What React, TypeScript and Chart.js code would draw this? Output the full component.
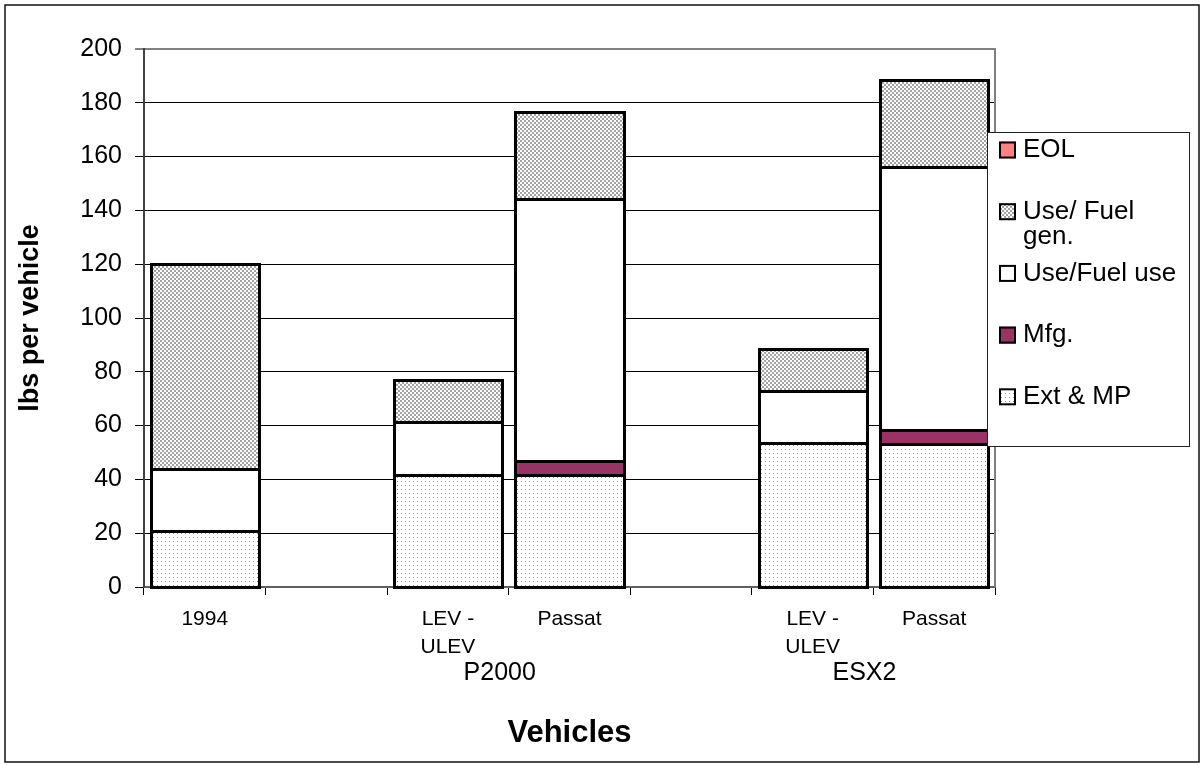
import React, { useEffect, useRef } from 'react';
import { Chart, registerables } from 'chart.js';

Chart.register(...registerables);

// Vehicle categories (blank slots separate the groups)
const categories: (string | string[])[] = ['1994', '', ['LEV -', 'ULEV'], 'Passat', '', ['LEV -', 'ULEV'], 'Passat'];
const groups = [
  { label: 'P2000', from: 2, to: 3 },
  { label: 'ESX2', from: 5, to: 6 },
];

// lbs per vehicle, by life-cycle stage
const extMP = [21, null, 41.5, 41.5, null, 53.5, 53.3];
const mfg = [0, null, 0, 5.2, null, 0, 5.2];
const useFuelUse = [23, null, 20, 97.5, null, 19.5, 97.7];
const useFuelGen = [76.2, null, 15.6, 32.5, null, 15.5, 32.2];
const eol = [0, null, 0, 0, null, 0, 0];

const yMin = 0;
const yMax = 200;
const yStep = 20;

const FONT = "'Liberation Sans', Arial, Helvetica, sans-serif";

function dotPattern(ctx: CanvasRenderingContext2D): CanvasPattern {
  const c = document.createElement('canvas');
  c.width = 4;
  c.height = 4;
  const g = c.getContext('2d')!;
  g.fillStyle = '#ffffff';
  g.fillRect(0, 0, 4, 4);
  g.fillStyle = '#999999';
  g.fillRect(1, 1, 1, 1);
  return ctx.createPattern(c, 'repeat')!;
}

function checkerPattern(ctx: CanvasRenderingContext2D): CanvasPattern {
  const c = document.createElement('canvas');
  c.width = 4;
  c.height = 4;
  const g = c.getContext('2d')!;
  g.fillStyle = '#ffffff';
  g.fillRect(0, 0, 4, 4);
  g.fillStyle = '#a2a2a2';
  g.fillRect(0, 0, 2, 2);
  g.fillRect(2, 2, 2, 2);
  return ctx.createPattern(c, 'repeat')!;
}

export default function App() {
  const ref = useRef<HTMLCanvasElement>(null);

  useEffect(() => {
    document.body.style.margin = '0';
    const canvas = ref.current!;
    const ctx0 = canvas.getContext('2d')!;
    const dots = dotPattern(ctx0);
    const checker = checkerPattern(ctx0);

    const series = [
      { label: 'Ext & MP', lines: ['Ext & MP'], data: extMP, fill: dots as any },
      { label: 'Mfg.', lines: ['Mfg.'], data: mfg, fill: '#993366' as any },
      { label: 'Use/Fuel use', lines: ['Use/Fuel use'], data: useFuelUse, fill: '#ffffff' as any },
      { label: 'Use/ Fuel gen.', lines: ['Use/ Fuel', 'gen.'], data: useFuelGen, fill: checker as any },
      { label: 'EOL', lines: ['EOL'], data: eol, fill: '#ff8080' as any },
    ];

    // crisp black outlines centred on every segment edge
    const outlines = {
      id: 'outlines',
      afterDatasetsDraw(chart: any) {
        const { ctx } = chart;
        ctx.save();
        ctx.strokeStyle = '#000';
        ctx.lineWidth = 3;
        chart.data.datasets.forEach((_: any, di: number) => {
          const meta = chart.getDatasetMeta(di);
          meta.data.forEach((el: any, i: number) => {
            const v = series[di].data[i];
            if (v === null || v === 0) return;
            const l = Math.round(el.x - el.width / 2) + 0.5;
            const r = Math.round(el.x + el.width / 2) + 0.5;
            const t = Math.round(Math.min(el.y, el.base)) + 0.5;
            const b = Math.round(Math.max(el.y, el.base)) + 0.5;
            ctx.strokeRect(l, t, r - l, b - t);
          });
        });
        ctx.restore();
      },
    };

    const decor = {
      id: 'decor',
      afterDraw(chart: any) {
        const { ctx, chartArea: a, scales } = chart;
        const x = scales.x;
        ctx.save();

        // right edge of the plot frame
        ctx.strokeStyle = '#808080';
        ctx.lineWidth = 2;
        ctx.beginPath();
        ctx.moveTo(a.right, a.top - 1);
        ctx.lineTo(a.right, a.bottom);
        ctx.stroke();

        // group labels under the category labels
        ctx.fillStyle = '#000';
        ctx.font = `25px ${FONT}`;
        ctx.textAlign = 'center';
        ctx.textBaseline = 'middle';
        groups.forEach((g) => {
          const cx = (x.getPixelForValue(g.from) + x.getPixelForValue(g.to)) / 2 - 9;
          ctx.fillText(g.label, cx, 673);
        });

        // legend box
        const lx = 987;
        const ly = 132;
        const lw = 202;
        const lh = 314;
        ctx.fillStyle = '#ffffff';
        ctx.fillRect(lx, ly, lw, lh);
        ctx.strokeStyle = '#222';
        ctx.lineWidth = 1;
        ctx.strokeRect(lx + 0.5, ly + 0.5, lw, lh);

        const items = [...series].reverse();
        ctx.textAlign = 'left';
        ctx.font = `26px ${FONT}`;
        items.forEach((s, i) => {
          const cy = 150 + i * 61.7;
          ctx.fillStyle = s.fill;
          ctx.fillRect(999, cy - 8.5, 17, 17);
          ctx.strokeStyle = '#000';
          ctx.lineWidth = 2;
          ctx.strokeRect(1000, cy - 7.5, 15, 15);
          ctx.fillStyle = '#000';
          s.lines.forEach((t, j) => ctx.fillText(t, 1023, cy + j * 25));
        });

        // outer frame
        ctx.strokeStyle = '#111';
        ctx.lineWidth = 1.5;
        ctx.strokeRect(5, 5, 1194, 757);
        ctx.restore();
      },
    };

    const chart = new Chart(canvas, {
      type: 'bar',
      data: {
        labels: categories as any,
        datasets: series.map((s) => ({
          label: s.label,
          data: s.data as any,
          backgroundColor: s.fill,
          borderWidth: 0,
          barPercentage: 0.89,
          categoryPercentage: 1,
        })),
      },
      options: {
        responsive: false,
        animation: false,
        devicePixelRatio: 1,
        layout: { padding: { top: 49, right: 206, left: 0, bottom: 0 } },
        plugins: { legend: { display: false }, tooltip: { enabled: false } },
        scales: {
          x: {
            stacked: true,
            grid: { drawOnChartArea: false, color: '#000', tickLength: 8, offset: true },
            border: { color: '#606060', width: 2 },
            ticks: {
              color: '#000',
              font: { family: FONT, size: 21, lineHeight: 1.3 },
              padding: 11,
              autoSkip: false,
              maxRotation: 0,
            },
            title: {
              display: true,
              text: 'Vehicles',
              color: '#000',
              font: { family: FONT, size: 31, weight: 'bold', lineHeight: 1.2 },
              padding: { top: 0, bottom: 13 },
            },
            afterFit: (s: any) => {
              s.height = 178;
            },
          },
          y: {
            stacked: true,
            min: yMin,
            max: yMax,
            ticks: {
              stepSize: yStep,
              color: '#000',
              font: { family: FONT, size: 25 },
              padding: 13,
            },
            grid: {
              color: (c: any) => (c.tick && c.tick.value === yMax ? '#808080' : '#000'),
              lineWidth: (c: any) => (c.tick && c.tick.value === yMax ? 2 : 1),
              tickLength: 9,
            },
            border: { color: '#404040', width: 2 },
            title: {
              display: true,
              text: 'lbs per vehicle',
              color: '#000',
              font: { family: FONT, size: 27, weight: 'bold', lineHeight: 1.2 },
              padding: { top: 14, bottom: 0 },
            },
            afterFit: (s: any) => {
              s.width = 144;
            },
          },
        },
      } as any,
      plugins: [outlines, decor],
    });

    return () => chart.destroy();
  }, []);

  return (
    <div style={{ width: 1201, height: 765, position: 'relative', background: '#fff' }}>
      <canvas ref={ref} width={1201} height={765} style={{ display: 'block' }} />
    </div>
  );
}
